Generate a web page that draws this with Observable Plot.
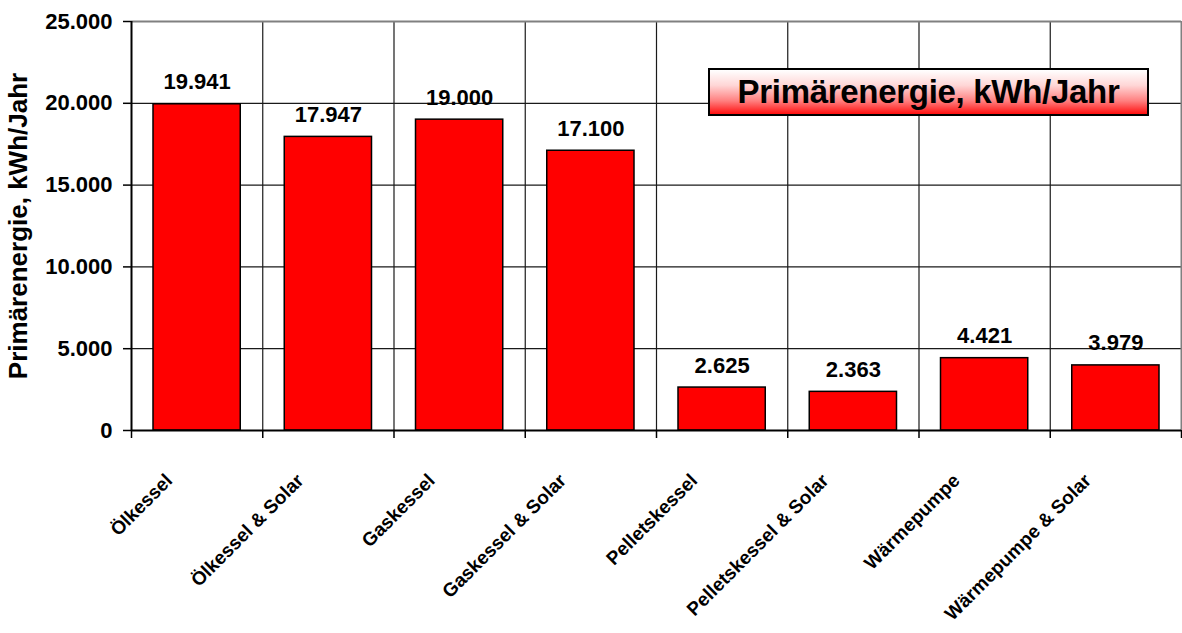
<!DOCTYPE html>
<html>
<head>
<meta charset="utf-8">
<script src="https://cdn.jsdelivr.net/npm/d3@7"></script>
<script src="https://cdn.jsdelivr.net/npm/@observablehq/plot@0.6"></script>
<style>
  html, body { margin: 0; padding: 0; background: #fff; }
  #wrap { position: relative; width: 1182px; height: 633px; font-family: "Liberation Sans", Arial, sans-serif; }
  #legend {
    position: absolute; left: 708px; top: 68px; width: 437px; height: 44px;
    border: 2px solid #000;
    background: linear-gradient(to bottom, #ffffff 0%, #ffd6d6 35%, #ff8080 70%, #ff1010 100%);
    font-weight: bold; font-size: 33px; line-height: 44px; text-align: center; color: #000;
    letter-spacing: -0.3px;
  }
</style>
</head>
<body>
<div id="wrap"><div id="legend">Primärenergie, kWh/Jahr</div></div>
<script>
const categories = ["Ölkessel", "Ölkessel & Solar", "Gaskessel", "Gaskessel & Solar",
  "Pelletskessel", "Pelletskessel & Solar", "Wärmepumpe", "Wärmepumpe & Solar"];
const values = [19941, 17947, 19000, 17100, 2625, 2363, 4421, 3979];
const yTicks = [0, 5000, 10000, 15000, 20000, 25000];
const yTitle = "Primärenergie, kWh/Jahr";

const de = d3.formatLocale({decimal: ",", thousands: ".", grouping: [3], currency: ["", " €"]});
const fmt = de.format(",");

const data = categories.map((c, i) => ({i, c, v: values[i]}));
const bounds = d3.range(0, categories.length + 1);

const chart = Plot.plot({
  width: 1182,
  height: 633,
  marginLeft: 131,
  marginRight: 1,
  marginTop: 21,
  marginBottom: 203,
  style: {fontFamily: '"Liberation Sans", Arial, sans-serif', fontWeight: "bold", fontSize: "22px", color: "#000", background: "transparent"},
  x: {type: "linear", domain: [0, categories.length], axis: null},
  y: {domain: [0, 25000], axis: null},
  marks: [
    Plot.ruleY(yTicks.slice(1, -1), {stroke: "#1a1a1a", strokeWidth: 1.2}),
    Plot.ruleX(bounds.slice(1, -1), {stroke: "#1a1a1a", strokeWidth: 1.2}),
    Plot.ruleY(yTicks.slice(-1), {stroke: "#808080", strokeWidth: 2}),
    Plot.ruleX(bounds.slice(-1), {stroke: "#808080", strokeWidth: 2}),
    Plot.rectY(data, {x1: "i", x2: d => d.i + 1, y: "v", insetLeft: 22, insetRight: 22,
      fill: "#ff0000", stroke: "#000", strokeWidth: 1.5}),
    Plot.ruleX([0], {stroke: "#000", strokeWidth: 2}),
    Plot.ruleY([0], {stroke: "#000", strokeWidth: 2}),
    Plot.axisY({ticks: yTicks, tickFormat: fmt, tickSize: 8, tickPadding: 11, label: null,
      fontSize: 22, fontWeight: "bold", stroke: "#000", strokeWidth: 1.5}),
    Plot.axisX({ticks: bounds, tickFormat: () => "", tickSize: 8, label: null, stroke: "#000", strokeWidth: 1.5}),
    Plot.text(data, {x: d => d.i + 0.5, y: "v", text: d => fmt(d.v), dy: -22,
      fontSize: 22, fontWeight: "bold", fill: "#000"}),
    Plot.text(data, {x: d => d.i + 0.5, y: () => 0, text: "c", rotate: -45, textAnchor: "end",
      dx: -28, dy: 47, fontSize: 19, fontWeight: "bold", fill: "#000"}),
    Plot.text([yTitle], {frameAnchor: "left", rotate: -90, textAnchor: "middle", text: d => d, dx: -113,
      fontSize: 26, fontWeight: "bold", fill: "#000"})
  ]
});
document.getElementById("wrap").prepend(chart);
chart.style.position = "absolute";
chart.style.left = "0px";
chart.style.top = "0px";
document.getElementById("legend").style.zIndex = 2;
</script>
</body>
</html>
